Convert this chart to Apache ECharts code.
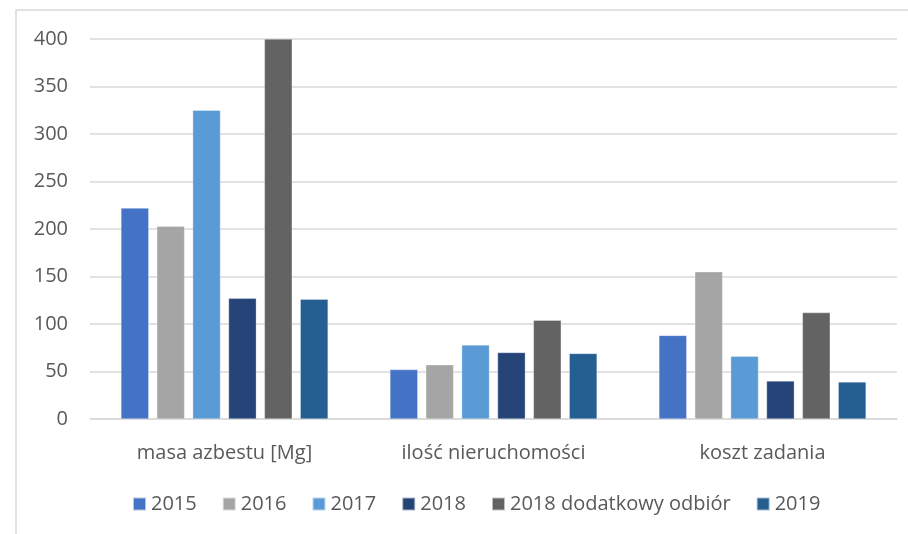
<!DOCTYPE html>
<html>
<head>
<meta charset="utf-8">
<script src="https://cdn.jsdelivr.net/npm/echarts@6/dist/echarts.min.js"></script>
<style>
  html, body { margin: 0; padding: 0; background: #ffffff; }
  #chart { width: 908px; height: 534px; }
</style>
</head>
<body>
<div id="chart"></div>
<script>
// Categories on the x axis
const categories = ['masa azbestu [Mg]', 'ilość nieruchomości', 'koszt zadania'];

// Series names shown in the legend
const seriesNames = ['2015', '2016', '2017', '2018', '2018 dodatkowy odbiór', '2019'];

// Values per series, one entry per category
const v2015 = [222, 52, 88];
const v2016 = [203, 57, 155];
const v2017 = [325, 78, 66];
const v2018 = [127, 70, 40];
const v2018extra = [400, 104, 112];
const v2019 = [126, 69, 39];

// Y axis range
const yMin = 0;
const yMax = 400;
const yStep = 50;

const seriesValues = [v2015, v2016, v2017, v2018, v2018extra, v2019];
const colors = ['#4472C4', '#A5A5A5', '#5B9BD5', '#264478', '#636363', '#255E91'];

const fontFamily = '"Open Sans", "Noto Sans", sans-serif';
const textColor = '#595959';
const gridColor = '#D9D9D9';

const chart = echarts.init(document.getElementById('chart'), null, { renderer: 'canvas' });

chart.setOption({
  animation: false,
  backgroundColor: '#ffffff',
  color: colors,
  textStyle: { fontFamily: fontFamily },
  graphic: [{
    type: 'rect',
    shape: { x: 16, y: 10, width: 1000, height: 600 },
    style: { fill: 'none', stroke: gridColor, lineWidth: 1.5 },
    silent: true,
    z: -1
  }],
  grid: { left: 90, right: 11, top: 39, bottom: 115, containLabel: false },
  legend: {
    data: seriesNames,
    bottom: 15,
    left: 127,
    itemWidth: 13,
    itemHeight: 13,
    itemGap: 25,
    icon: 'rect',
    textStyle: { color: textColor, fontSize: 20, fontFamily: fontFamily }
  },
  xAxis: {
    type: 'category',
    data: categories,
    axisLine: { show: true, lineStyle: { color: gridColor, width: 1.5 } },
    axisTick: { show: false },
    axisLabel: { color: textColor, fontSize: 20, margin: 24, fontFamily: fontFamily }
  },
  yAxis: {
    type: 'value',
    min: yMin,
    max: yMax,
    interval: yStep,
    axisLine: { show: false },
    axisTick: { show: false },
    splitLine: { lineStyle: { color: gridColor, width: 1.5 } },
    axisLabel: { color: textColor, fontSize: 20, margin: 22, fontFamily: fontFamily }
  },
  series: seriesNames.map((name, i) => ({
    name: name,
    type: 'bar',
    data: seriesValues[i],
    barGap: '29%',
    barCategoryGap: '23%',
    itemStyle: { color: colors[i], borderColor: 'rgba(255,255,255,0.6)', borderWidth: 0.5 }
  }))
});
</script>
</body>
</html>
